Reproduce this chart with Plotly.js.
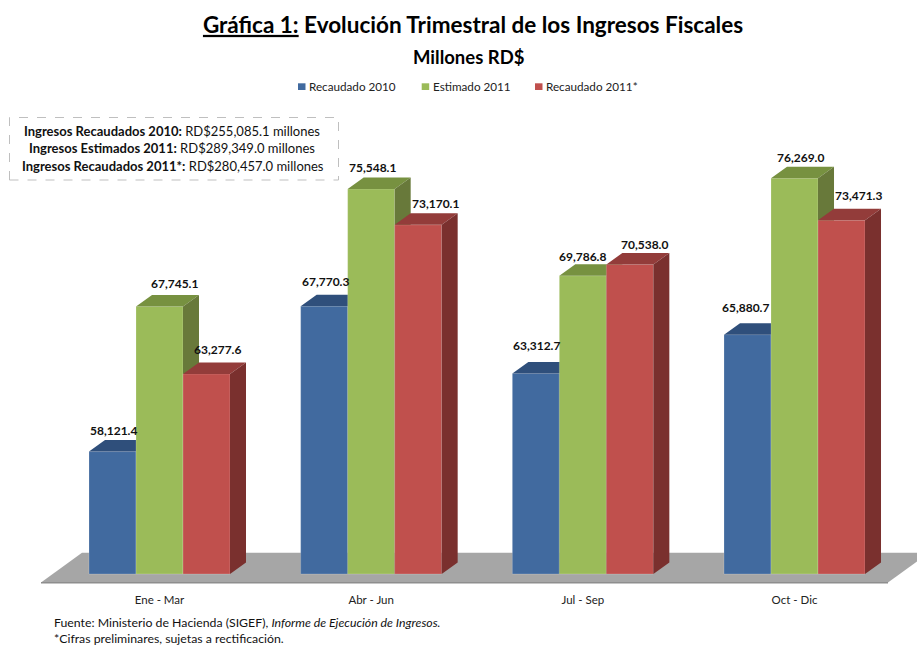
<!DOCTYPE html>
<html>
<head>
<meta charset="utf-8">
<script src="https://cdn.plot.ly/plotly-3.0.1.min.js"></script>
<style>html,body{margin:0;padding:0;background:#fff;overflow:hidden}#chart{width:917px;height:646px}</style>
</head>
<body>
<div id="chart"></div>
<script>
// ---- Data ----
var categories = ['Ene - Mar', 'Abr - Jun', 'Jul - Sep', 'Oct - Dic'];
var recaudado2010 = [58121.4, 67770.3, 63312.7, 65880.7];
var estimado2011 = [67745.1, 75548.1, 69786.8, 76269.0];
var recaudado2011 = [63277.6, 73170.1, 70538.0, 73471.3];
var seriesNames = ['Recaudado 2010', 'Estimado 2011', 'Recaudado 2011*'];

// ---- Styling / layout constants ----
var W = 917, H = 646, plotBottom = 590;
var FONT = 'Lato, "Open Sans", sans-serif';
var baseValue = 50000;
var pxPerCat = 211.67, pxPerUnit = 0.01507, baseY = 574, cat0X = 159.5;
var barW = 47 / pxPerCat;
var depthX = 16 / pxPerCat, depthY = 11.5 / pxPerUnit;
var colors = [
  {front: '#416A9F', top: '#2F4F7B', side: '#2F4F7B'},
  {front: '#9BBB59', top: '#779140', side: '#68793A'},
  {front: '#C0504D', top: '#933C3A', side: '#7A302E'}
];
// label offsets from the centre of each bar's front top edge, in pixels
var labelDx = [[1, 1, 1, -1.6], [15, 1, 0, 6], [10.5, 17, 15, 17]];
var labelDy = [[21.6, 25, 28, 27], [22.6, 21, 19, 21], [24, 21, 20, 25]];

var allSeries = [recaudado2010, estimado2011, recaudado2011];
var xs = categories.map(function (c, i) { return i; });
var xRange = [-cat0X / pxPerCat, (W - cat0X) / pxPerCat];
var yRange = [baseValue - (plotBottom - baseY) / pxPerUnit, baseValue + baseY / pxPerUnit];
function px(x) { return x / W; }
function py(y) { return 1 - y / plotBottom; }
function fmt(v) { return v.toLocaleString('en-US', {minimumFractionDigits: 1, maximumFractionDigits: 1}); }

var traces = [], annotations = [], shapes = [];
allSeries.forEach(function (vals, s) {
  var suffix = s === 0 ? '' : String(s + 1);
  var off = (s - 1.5) * barW;
  traces.push({
    type: 'bar', x: xs, y: vals.map(function (v) { return v - baseValue; }), base: baseValue,
    width: barW, offset: off, name: seriesNames[s], showlegend: false,
    marker: {color: colors[s].front, line: {color: 'rgba(255,255,255,0.18)', width: 1}},
    xaxis: 'x' + suffix, yaxis: 'y' + suffix
  });
  var tx = [], ty = [], sx = [], sy = [];
  vals.forEach(function (v, i) {
    var L = i + off, R = L + barW;
    tx.push(L, L + depthX, R + depthX, R, L, null);
    ty.push(v, v + depthY, v + depthY, v, v, null);
    sx.push(R, R + depthX, R + depthX, R, R, null);
    sy.push(baseValue, baseValue + depthY, v + depthY, v, baseValue, null);
    annotations.push({
      xref: 'x' + suffix, yref: 'y' + suffix, x: L + barW / 2, y: v,
      text: '<b>' + fmt(v) + '</b>', showarrow: false,
      xanchor: 'center', yanchor: 'middle',
      xshift: labelDx[s][i], yshift: labelDy[s][i],
      font: {family: FONT, size: 12, color: '#111'}
    });
  });
  [[tx, ty, colors[s].top], [sx, sy, colors[s].side]].forEach(function (f) {
    traces.push({
      type: 'scatter', mode: 'lines', x: f[0], y: f[1], fill: 'toself', fillcolor: f[2],
      line: {width: 0, color: f[2]}, showlegend: false, hoverinfo: 'skip',
      xaxis: 'x' + suffix, yaxis: 'y' + suffix
    });
  });
});

// floor under the bars
var fx = function (p) { return (p - cat0X) / pxPerCat; };
var fy = function (p) { return baseValue + (baseY - p) / pxPerUnit; };
shapes.push({
  type: 'path', xref: 'x', yref: 'y', layer: 'below',
  path: 'M' + fx(41) + ',' + fy(582.5) + ' L' + fx(82) + ',' + fy(552.7) + ' L' + fx(929) + ',' + fy(552.7) + ' L' + fx(888) + ',' + fy(582.5) + ' Z',
  fillcolor: '#A6A6A6', line: {width: 0}
});
shapes.push({
  type: 'line', xref: 'x', yref: 'y', layer: 'below',
  x0: fx(41), x1: fx(888), y0: fy(582.7), y1: fy(582.7),
  line: {color: '#8E8E8E', width: 1.5}
});

// summary box
shapes.push({
  type: 'rect', xref: 'paper', yref: 'paper',
  x0: px(9.5), x1: px(338.5), y0: py(180), y1: py(117.5),
  line: {color: '#BFBFBF', width: 1, dash: 'dash'}, fillcolor: 'rgba(0,0,0,0)'
});
function note(text, x, y, size, color, anchor) {
  annotations.push({
    xref: 'paper', yref: 'paper', x: px(x), y: py(y), text: text, showarrow: false,
    xanchor: anchor || 'center', yanchor: 'middle',
    font: {family: FONT, size: size, color: color || '#111'}, align: anchor || 'center'
  });
}
note('<b>Ingresos Recaudados 2010:</b> RD$255,085.1 millones', 172, 131, 13);
note('<b>Ingresos Estimados 2011:</b> RD$289,349.0 millones', 172, 148.5, 13);
note('<b>Ingresos Recaudados 2011*:</b> RD$280,457.0 millones', 172.5, 166, 13);

// subtitle, key and source
note('<b>Millones RD$</b>', 468.5, 57.5, 18.5, '#000');
var keySw = [298, 421.7, 535], keyTx = [307, 430.5, 544];
seriesNames.forEach(function (n, s) {
  shapes.push({
    type: 'rect', xref: 'paper', yref: 'paper',
    x0: px(keySw[s]), x1: px(keySw[s] + 7.5), y0: py(90), y1: py(83.3),
    fillcolor: colors[s].front, line: {width: 0}
  });
  note(n, keyTx[s], 86.5, 11.7, '#222', 'left');
});
note('Fuente: Ministerio de Hacienda (SIGEF), <i>Informe de Ejecución de Ingresos.</i>', 52, 622.5, 12.3, '#111', 'left');
note('*Cifras preliminares, sujetas a rectificación.', 52, 638.5, 12.3, '#111', 'left');

var hidden = function (axis) {
  return {range: axis, visible: false, showgrid: false, zeroline: false, fixedrange: true};
};
var layout = {
  width: W, height: H,
  margin: {l: 0, r: 0, t: 0, b: H - plotBottom, pad: 0},
  paper_bgcolor: '#fff', plot_bgcolor: 'rgba(0,0,0,0)',
  showlegend: false, hovermode: false, barmode: 'overlay',
  title: {
    text: '<b><u>Gráfica 1:</u> Evolución Trimestral de los Ingresos Fiscales</b>',
    x: 473 / W, xanchor: 'center', xref: 'paper', y: 1 - 25 / H, yref: 'container', yanchor: 'middle',
    font: {family: FONT, size: 22.5, color: '#000'}
  },
  xaxis: {
    range: xRange, tickmode: 'array', tickvals: xs, ticktext: categories,
    showgrid: false, zeroline: false, showline: false, ticks: '', fixedrange: true,
    tickfont: {family: FONT, size: 11.5, color: '#222'}, ticklabelstandoff: 1
  },
  yaxis: {range: yRange, visible: false, showgrid: false, zeroline: false, fixedrange: true},
  xaxis2: Object.assign(hidden(xRange), {overlaying: 'x'}),
  yaxis2: Object.assign(hidden(yRange), {overlaying: 'y'}),
  xaxis3: Object.assign(hidden(xRange), {overlaying: 'x'}),
  yaxis3: Object.assign(hidden(yRange), {overlaying: 'y'}),
  shapes: shapes, annotations: annotations
};
Plotly.newPlot('chart', traces, layout, {displayModeBar: false, responsive: false, staticPlot: true});
</script>
</body>
</html>
